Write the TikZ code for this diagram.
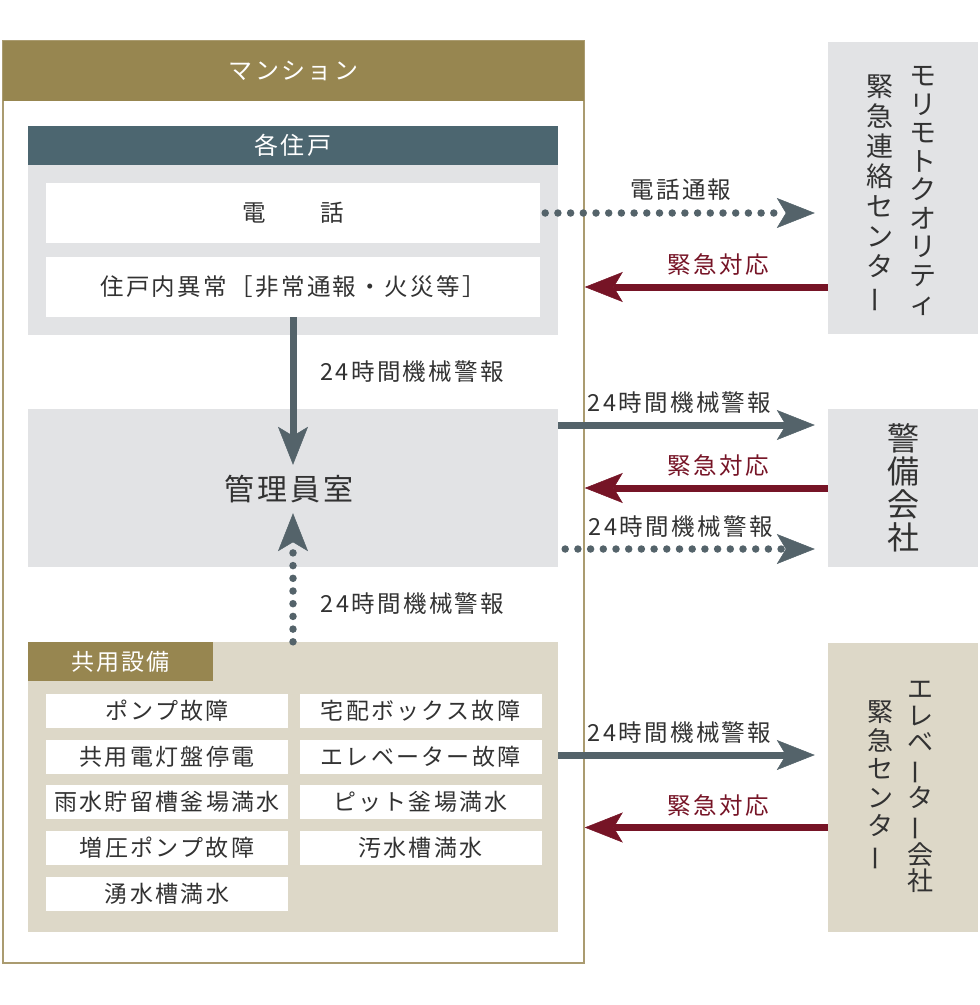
\documentclass[tikz,border=0pt]{standalone}
\usepackage{fontspec}
\usepackage{graphicx}
\usetikzlibrary{arrows.meta,positioning}
\newfontfamily\jp{Noto Sans CJK JP}[LetterSpace=10]
\newfontfamily\jpv{Noto Sans CJK JP}
\newcommand\jpsize[2]{\fontsize{#1}{#2}\selectfont}
\newcommand\vbar{\rotatebox[origin=c]{90}{ー}}
\definecolor{gold}{RGB}{151,134,80}
\definecolor{border}{RGB}{170,155,112}
\definecolor{slatehead}{RGB}{76,102,112}
\definecolor{arrowslate}{RGB}{84,99,106}
\definecolor{panelgray}{RGB}{226,227,229}
\definecolor{beige}{RGB}{221,216,200}
\definecolor{darkred}{RGB}{118,20,38}
\definecolor{textgray}{RGB}{50,50,50}

\begin{document}
\begin{tikzpicture}[x=1pt,y=-1pt,
  every node/.style={inner sep=0pt, text=textgray},
  panel/.style={fill=panelgray, minimum width=530pt},
  cellbox/.style={fill=white, minimum width=494pt, minimum height=60pt, font=\jp\jpsize{23.5}{26}},
  itembox/.style={fill=white, minimum width=242pt, minimum height=34pt, font=\jp\jpsize{23}{25}},
  sidebox/.style={minimum width=150pt},
  vcol/.style={align=center, font=\jpv\jpsize{27}{28.5}},
  lbl/.style={font=\jp\jpsize{23.5}{26}},
  bigtip/.style={-{Stealth[length=38pt,width=30pt,inset=9pt,line width=0.5pt]}},
  solidarrow/.style={bigtip, draw=arrowslate, line width=7pt},
  dotarrow/.style={bigtip, draw=arrowslate, line width=7.5pt, line cap=round, dash pattern=on 0pt off 12.7pt},
  redarrow/.style={bigtip, draw=darkred, line width=7pt}]
\useasboundingbox (0,0) rectangle (980,1005);

% mansion
\node[draw=border, line width=1.5pt, minimum width=581pt, minimum height=922pt] (mansion) at (293.5,502) {};
\node[fill=gold, minimum width=581pt, minimum height=60pt, text=white, font=\jp\jpsize{24}{26}] (mhead) at (293.5,71) {マンション};

% each unit
\node[fill=slatehead, minimum width=530pt, minimum height=39pt, text=white, font=\jp\jpsize{24}{26}] (unithead) at (293,145.5) {各住戸};
\node[panel, minimum height=170pt] (unit) at (293,250) {};
\node[cellbox] (tel) at (293,213) {電　　話};
\node[cellbox] (abn) at (293,287) {住戸内異常［非常通報・火災等］};

% manager room
\node[panel, minimum height=158pt] (kanri) at (293,488) {};
\node[font=\jp\jpsize{30}{32}, minimum height=48pt] (room) at (289,489) {管理員室};

% shared facilities
\node[panel, fill=beige, minimum height=290pt] (shared) at (293,787) {};
\node[fill=gold, minimum width=185pt, minimum height=39pt, text=white, font=\jp\jpsize{23}{25}] (sharedtab) at (120.5,661.5) {共用設備};
\node[itembox] (it1) at (167,711) {ポンプ故障};
\node[itembox] (it2) at (420.5,711) {宅配ボックス故障};
\node[itembox] (it3) at (167,756.5) {共用電灯盤停電};
\node[itembox] (it4) at (420.5,756.5) {エレベーター故障};
\node[itembox] (it5) at (167,802) {雨水貯留槽釜場満水};
\node[itembox] (it6) at (420.5,802) {ピット釜場満水};
\node[itembox] (it7) at (167,848) {増圧ポンプ故障};
\node[itembox] (it8) at (420.5,848) {汚水槽満水};
\node[itembox] (it9) at (167,893.5) {湧水槽満水};

% outside parties
\node[sidebox, fill=panelgray, minimum height=292pt] (mq) at (903,188) {};
\node[vcol] (mqname) at (923,191) {モ\\リ\\モ\\ト\\ク\\オ\\リ\\テ\\ィ};
\node[vcol, font=\jpv\jpsize{27}{30}] (mqcenter) at (880,194) {緊\\急\\連\\絡\\セ\\ン\\タ\\\vbar};
\node[sidebox, fill=panelgray, minimum height=158pt, vcol, font=\jpv\jpsize{32}{33}] (guard) at (903,488) {警\\備\\会\\社};
\node[sidebox, fill=beige, minimum height=289pt] (elev) at (903,787.5) {};
\node[vcol, font=\jpv\jpsize{26}{26.5}] (elevname) at (920,787) {エ\\レ\\ベ\\\vbar\\タ\\\vbar\\会\\社};
\node[vcol, font=\jpv\jpsize{26}{28.5}] (elevcenter) at (880,786) {緊\\急\\セ\\ン\\タ\\\vbar};

% connectors
\coordinate (k1) at ([yshift=63pt]kanri.east);
\coordinate (k3) at ([xshift=7pt,yshift=-61pt]kanri.east);
\coordinate (s1) at ([yshift=32pt]shared.east);
\coordinate (s2) at ([yshift=-40pt]elev.west);

\draw[dotarrow, shorten >=13pt] ([xshift=5pt]tel.east) -- (tel.east -| mq.west) node[lbl, pos=0.48, above=9pt] {電話通報};
\draw[redarrow] (mq.west |- abn.east) -- (abn.east -| mansion.east) node[lbl, pos=0.45, above=8pt, text=darkred] {緊急対応};

\draw[solidarrow] (abn.south) -- (abn.south |- room.north) node[lbl, pos=0.37, right=24pt] {24時間機械警報};
\draw[dotarrow] (shared.north) -- (shared.north |- room.south) node[lbl, pos=0.3, right=24pt] {24時間機械警報};

\draw[solidarrow, shorten >=13pt] (k1) -- (k1 -| guard.west) node[lbl, pos=0.45, above=8pt] {24時間機械警報};
\draw[redarrow] (guard.west) -- (guard.west -| mansion.east) node[lbl, pos=0.45, above=8pt, text=darkred] {緊急対応};
\draw[dotarrow, shorten >=13pt] (k3) -- (k3 -| guard.west) node[lbl, pos=0.44, above=8pt] {24時間機械警報};

\draw[solidarrow, shorten >=13pt] (s1) -- (s1 -| elev.west) node[lbl, pos=0.45, above=8pt] {24時間機械警報};
\draw[redarrow] (s2) -- (s2 -| mansion.east) node[lbl, pos=0.45, above=8pt, text=darkred] {緊急対応};
\end{tikzpicture}
\end{document}
